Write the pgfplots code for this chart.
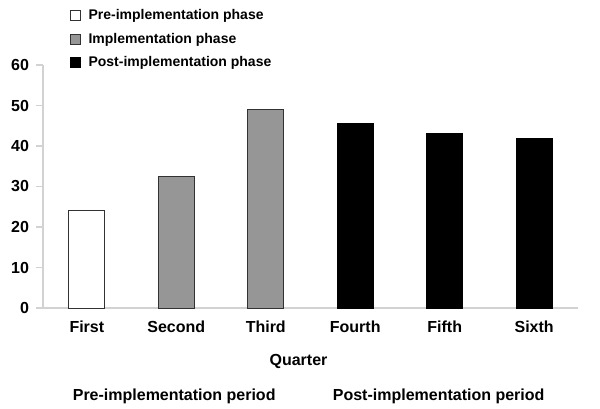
\documentclass[border=0pt]{standalone}
\usepackage{pgfplots}
\pgfplotsset{compat=1.18}
\usepackage{fontspec}
\setmainfont{Liberation Sans}
\definecolor{midgray}{RGB}{150,150,150}
\definecolor{axisgray}{RGB}{210,210,210}
\definecolor{edgegray}{RGB}{50,50,50}

\begin{document}
\begin{tikzpicture}
\begin{axis}[
    name=ax,
    at={(0,0)}, anchor=south west,
    width=401.25pt, height=182.25pt,
    scale only axis,
    xmin=-0.49, xmax=5.49,
    ymin=0, ymax=60,
    ytick={0,10,...,60},
    xtick={0,1,2,3,4,5},
    xticklabels={First,Second,Third,Fourth,Fifth,Sixth},
    axis x line=bottom, axis y line=left,
    axis line style={-, draw=axisgray, line width=0.8pt},
    y tick style={draw=axisgray, line width=0.8pt},
    x tick style={draw=none},
    tick align=outside,
    major tick length=5pt,
    /pgf/number format/assume math mode=true,
    tick label style={font=\fontsize{12}{14}\selectfont\bfseries},
    yticklabel style={xshift=-2pt},
    xticklabel style={yshift=-1pt},
    xlabel={Quarter},
    xlabel style={font=\fontsize{12}{14}\selectfont\bfseries, at={(axis description cs:0.4776,-0.2346)}, anchor=base},
    ybar, bar width=27pt,
    legend style={draw=none, at={(0.05,1.24)}, anchor=north west,
        font=\fontsize{10.5}{12}\selectfont\bfseries, row sep=4.5pt,
        inner sep=0pt, cells={anchor=west}},
    legend image code/.code={\draw[#1, line width=0.6pt] (0pt,-3.75pt) rectangle (7.5pt,3.75pt);
        \path (11.25pt,0pt);},
    clip=false,
]
\addplot[bar shift=0pt, fill=white, draw=edgegray, line width=0.7pt]
    coordinates {(0,24.2)};
\addlegendentry{Pre-implementation phase}
\addplot[bar shift=0pt, fill=midgray, draw=edgegray, line width=0.7pt]
    coordinates {(1,32.5) (2,49.0)};
\addlegendentry{Implementation phase}
\addplot[bar shift=0pt, fill=black, draw=black, line width=0.7pt]
    coordinates {(3,45.6) (4,43.1) (5,41.9)};
\addlegendentry{Post-implementation phase}
\node[anchor=base west, font=\fontsize{12}{14}\selectfont\bfseries]
    at (rel axis cs:0.047,-0.379) {Pre-implementation period};
\node[anchor=base west, font=\fontsize{12}{14}\selectfont\bfseries]
    at (rel axis cs:0.533,-0.379) {Post-implementation period};
\end{axis}
\path (-32.25pt,-75.75pt) rectangle (417.75pt,231pt);
\end{tikzpicture}
\end{document}
